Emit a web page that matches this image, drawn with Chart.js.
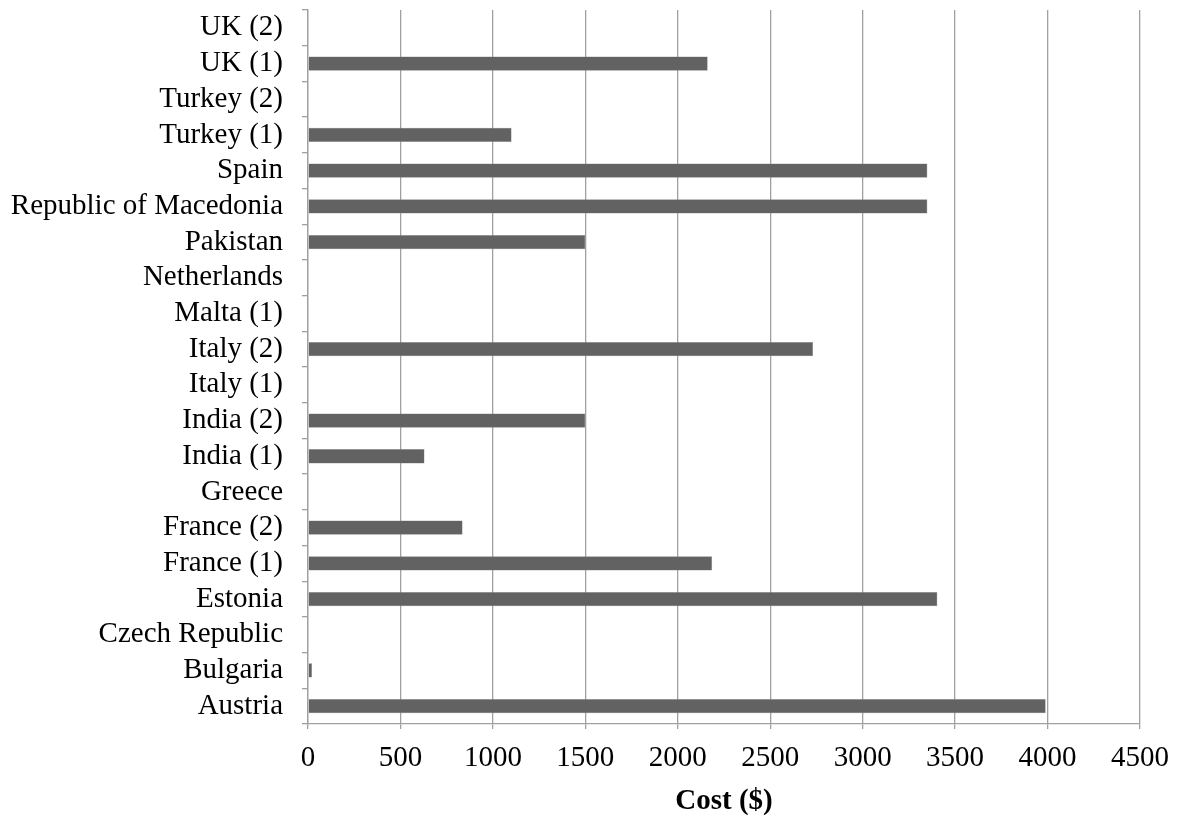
<!DOCTYPE html>
<html>
<head>
<meta charset="utf-8">
<script src="https://cdn.jsdelivr.net/npm/chart.js@4"></script>
<style>
  body { margin: 0; background: #fff; }
  canvas { display: block; }
</style>
</head>
<body>
<canvas id="costChart" width="1179" height="816"></canvas>
<script>
// categories top to bottom, as in the figure
const categories = [
  "UK (2)", "UK (1)", "Turkey (2)", "Turkey (1)", "Spain",
  "Republic of Macedonia", "Pakistan", "Netherlands", "Malta (1)",
  "Italy (2)", "Italy (1)", "India (2)", "India (1)", "Greece",
  "France (2)", "France (1)", "Estonia", "Czech Republic", "Bulgaria", "Austria"
];
const costs = [
  0, 2162, 0, 1101, 3350,
  3350, 1500, 0, 0,
  2732, 0, 1500, 630, 0,
  836, 2186, 3404, 0, 22, 3990
];
const xTicks = [0, 500, 1000, 1500, 2000, 2500, 3000, 3500, 4000, 4500];

const serif = "Liberation Serif";

new Chart(document.getElementById("costChart").getContext("2d"), {
  type: "bar",
  data: {
    labels: categories,
    datasets: [
      {
        label: "Cost",
        data: costs,
        backgroundColor: "#626262",
        borderColor: "#8a8a8a",
        borderWidth: 0.5,
        barPercentage: 0.4,
        categoryPercentage: 1.0,
      },
    ],
  },
  options: {
    indexAxis: "y",
    responsive: false,
    animation: false,
    layout: { padding: { top: 10, right: 39, left: 0, bottom: 0 } },
    plugins: {
      legend: { display: false },
      tooltip: { enabled: false },
    },
    scales: {
      x: {
        min: 0,
        max: 4500,
        afterBuildTicks: (axis) => {
          axis.ticks = xTicks.map((v) => ({ value: v }));
        },
        afterFit: (axis) => {
          axis.height = 92;
          axis.paddingLeft = 0;
          axis.paddingRight = 0;
        },
        grid: { color: "#a0a0a0", lineWidth: 1.3, tickLength: 5 },
        border: { color: "#a0a0a0", width: 1.3 },
        ticks: {
          color: "#000",
          font: { family: serif, size: 29, lineHeight: 1.0 },
          padding: 15,
          maxRotation: 0,
          callback: (v) => String(v),
        },
        title: {
          display: true,
          text: "Cost ($)",
          color: "#000",
          font: { family: serif, size: 29, weight: "bold", lineHeight: 1.0 },
          padding: { top: 14, bottom: 0 },
        },
      },
      y: {
        afterFit: (axis) => {
          axis.width = 308;
          axis.paddingTop = 0;
          axis.paddingBottom = 0;
        },
        grid: {
          offset: true,
          drawOnChartArea: false,
          color: "#a0a0a0",
          lineWidth: 1.3,
          tickLength: 6,
        },
        border: { color: "#a0a0a0", width: 1.3 },
        ticks: {
          color: "#000",
          font: { family: serif, size: 29 },
          padding: 19,
          autoSkip: false,
        },
      },
    },
  },
});
</script>
</body>
</html>
